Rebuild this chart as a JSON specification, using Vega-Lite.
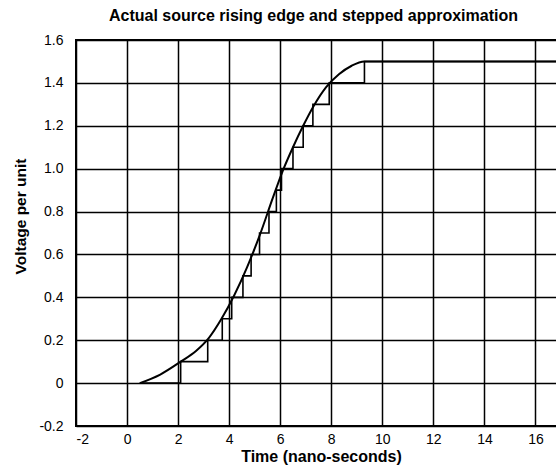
{
  "$schema": "https://vega.github.io/schema/vega-lite/v6.json",
  "autosize": {"type": "none"},
  "padding": {"left": 76, "top": 40, "right": 0, "bottom": 45},
  "width": 485,
  "height": 386,
  "title": {"text": "Actual source rising edge and stepped approximation", "font": "Liberation Sans", "fontSize": 16, "fontWeight": "bold", "color": "black", "offset": 9, "dx": -5},
  "config": {
    "view": {"stroke": "black", "strokeWidth": 2},
    "axis": {"domain": false, "ticks": false, "tickSize": 0, "grid": true, "gridColor": "black", "gridOpacity": 1, "gridWidth": 1.5,
      "labelFont": "Liberation Sans", "labelFontSize": 14, "labelColor": "black",
      "titleFont": "Liberation Sans", "titleFontWeight": "bold", "titleColor": "black"}
  },
  "datasets": {
    "curve": [
      {"t": 0.5, "v": 0}, {"t": 1.3, "v": 0.04}, {"t": 2.1, "v": 0.1}, {"t": 2.7, "v": 0.15},
      {"t": 3.2, "v": 0.21}, {"t": 3.7, "v": 0.3}, {"t": 4.2, "v": 0.41}, {"t": 4.7, "v": 0.54},
      {"t": 5.2, "v": 0.69}, {"t": 5.7, "v": 0.86}, {"t": 6.1, "v": 0.99}, {"t": 6.5, "v": 1.1},
      {"t": 6.9, "v": 1.2}, {"t": 7.3, "v": 1.29}, {"t": 7.8, "v": 1.38}, {"t": 8.3, "v": 1.44},
      {"t": 8.8, "v": 1.48}, {"t": 9.3, "v": 1.5}, {"t": 17, "v": 1.5}
    ],
    "steps": [
      {"t": 0.5, "v": 0}, {"t": 2.1, "v": 0.1}, {"t": 3.16, "v": 0.2}, {"t": 3.73, "v": 0.3},
      {"t": 4.1, "v": 0.4}, {"t": 4.54, "v": 0.5}, {"t": 4.86, "v": 0.6}, {"t": 5.19, "v": 0.7},
      {"t": 5.56, "v": 0.8}, {"t": 5.85, "v": 0.9}, {"t": 6.05, "v": 1.0}, {"t": 6.5, "v": 1.1},
      {"t": 6.9, "v": 1.2}, {"t": 7.28, "v": 1.3}, {"t": 7.92, "v": 1.4}, {"t": 9.3, "v": 1.5},
      {"t": 17, "v": 1.5}
    ]
  },
  "encoding": {
    "x": {"field": "t", "type": "quantitative", "scale": {"domain": [-2, 17], "nice": false, "zero": false},
      "axis": {"title": "Time (nano-seconds)", "titleFontSize": 16, "values": [-2, 0, 2, 4, 6, 8, 10, 12, 14, 16], "labelExpr": "'' + datum.value", "labelPadding": 6, "titlePadding": 2, "titleX": 245}},
    "y": {"field": "v", "type": "quantitative", "scale": {"domain": [-0.2, 1.6], "nice": false, "zero": false},
      "axis": {"title": "Voltage per unit", "titleFontSize": 15.5, "titleY": 176, "values": [-0.2, 0, 0.2, 0.4, 0.6, 0.8, 1.0, 1.2, 1.4, 1.6],
        "labelExpr": "datum.value == 0 ? '0' : (datum.value < 0 ? '-' + format(-datum.value, '.1f') : format(datum.value, '.1f'))",
        "labelPadding": 13, "titlePadding": 10}}
  },
  "layer": [
    {"data": {"name": "steps"}, "mark": {"type": "line", "interpolate": "step-after", "color": "black", "strokeWidth": 1.6}},
    {"data": {"name": "curve"}, "mark": {"type": "line", "interpolate": "monotone", "color": "black", "strokeWidth": 2}}
  ]
}
